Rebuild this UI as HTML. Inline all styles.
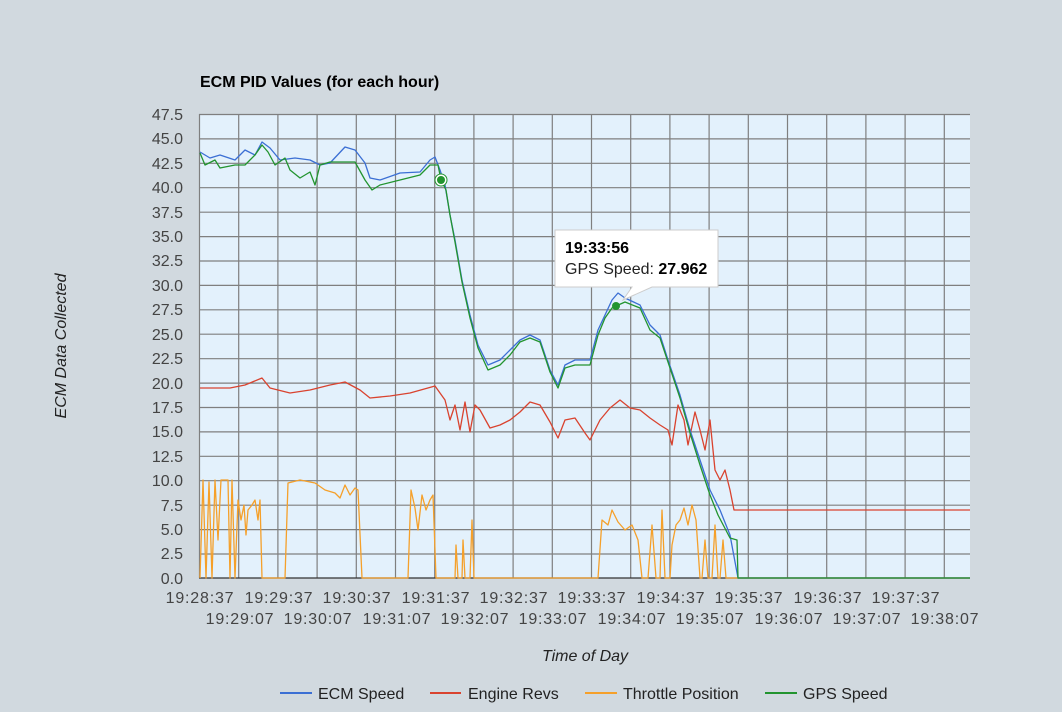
<!DOCTYPE html>
<html><head><meta charset="utf-8"><style>
html,body{margin:0;padding:0;background:#d1d9df;}
svg{display:block;font-family:"Liberation Sans",Arial,sans-serif;}
</style></head><body>
<svg width="1062" height="712" viewBox="0 0 1062 712" xmlns="http://www.w3.org/2000/svg">
<rect width="1062" height="712" fill="#d1d9df"/>
<text x="200" y="87" font-size="16" font-weight="bold" fill="#000">ECM PID Values (for each hour)</text>
<rect x="199" y="114" width="771" height="464" fill="#e3f1fc"/>
<g stroke="#7f7f7f" stroke-width="1.2" fill="none">
<path d="M199 114.5H970M199 138.9H970M199 163.3H970M199 187.7H970M199 212.2H970M199 236.6H970M199 261H970M199 285.4H970M199 309.8H970M199 334.2H970M199 358.7H970M199 383.1H970M199 407.5H970M199 431.9H970M199 456.3H970M199 480.7H970M199 505.2H970M199 529.6H970M199 554H970"/>
<path d="M199.5 114V578M238.7 114V578M277.9 114V578M317.1 114V578M356.3 114V578M395.5 114V578M434.7 114V578M473.9 114V578M513.1 114V578M552.3 114V578M591.5 114V578M630.7 114V578M669.9 114V578M709.1 114V578M748.3 114V578M787.5 114V578M826.7 114V578M865.9 114V578M905.1 114V578M944.3 114V578"/>
</g>
<line x1="199" y1="578" x2="970" y2="578" stroke="#333" stroke-width="1.2"/>
<g font-size="16" fill="#444" text-anchor="end">
<text x="183" y="120">47.5</text><text x="183" y="144">45.0</text><text x="183" y="169">42.5</text><text x="183" y="193">40.0</text><text x="183" y="218">37.5</text><text x="183" y="242">35.0</text><text x="183" y="266">32.5</text><text x="183" y="291">30.0</text><text x="183" y="315">27.5</text><text x="183" y="340">25.0</text><text x="183" y="364">22.5</text><text x="183" y="389">20.0</text><text x="183" y="413">17.5</text><text x="183" y="437">15.0</text><text x="183" y="462">12.5</text><text x="183" y="486">10.0</text><text x="183" y="511">7.5</text><text x="183" y="535">5.0</text><text x="183" y="559">2.5</text><text x="183" y="584">0.0</text>
</g>
<g font-size="16" fill="#444" text-anchor="middle" letter-spacing="0.8">
<text x="200" y="603">19:28:37</text><text x="279" y="603">19:29:37</text><text x="357" y="603">19:30:37</text><text x="436" y="603">19:31:37</text><text x="514" y="603">19:32:37</text><text x="592" y="603">19:33:37</text><text x="671" y="603">19:34:37</text><text x="749" y="603">19:35:37</text><text x="828" y="603">19:36:37</text><text x="906" y="603">19:37:37</text>
<text x="240" y="624">19:29:07</text><text x="318" y="624">19:30:07</text><text x="397" y="624">19:31:07</text><text x="475" y="624">19:32:07</text><text x="553" y="624">19:33:07</text><text x="632" y="624">19:34:07</text><text x="710" y="624">19:35:07</text><text x="789" y="624">19:36:07</text><text x="867" y="624">19:37:07</text><text x="945" y="624">19:38:07</text>
</g>
<text x="585" y="661" font-size="16" font-style="italic" fill="#222" text-anchor="middle">Time of Day</text>
<text transform="translate(66,346) rotate(-90)" font-size="16" font-style="italic" fill="#222" text-anchor="middle">ECM Data Collected</text>
<g fill="none" stroke-width="1.3" stroke-linejoin="round">
<polyline stroke="#f5a02a" points="200,578 203,480 206,578 209,482 212,578 215,480 218,540 221,480 228,480 230,578 232,480 235,578 238,500 241,520 244,505 246,535 248,510 252,505 255,500 258,520 260,500 262,578 285,578 288,483 300,480 315,483 325,490 335,493 340,498 345,485 350,495 355,488 358,490 362,578 408,578 411,490 415,508 418,530 422,495 426,510 430,500 433,495 436,578 455,578 456,545 458,578 462,578 463,540 465,578 470,578 472,520 474,578 598,578 602,520 608,525 612,510 618,522 625,530 632,525 638,540 642,578 648,578 652,525 656,578 660,578 662,510 665,578 670,578 672,545 676,525 680,520 684,508 688,525 692,505 696,520 700,578 702,578 705,540 708,578 712,578 715,525 718,578 720,578 723,540 726,578 970,578"/>
<polyline stroke="#d9432f" points="200,388 230,388 245,385 262,378 270,388 290,393 310,390 330,385 345,382 360,390 370,398 390,396 410,393 435,386 445,400 450,420 455,405 460,430 465,402 470,432 475,405 480,410 490,428 500,425 510,420 520,412 530,402 540,405 550,422 558,438 565,420 575,418 585,433 590,440 600,420 610,408 620,400 630,408 640,410 650,418 660,425 668,430 672,445 678,405 684,420 688,445 695,412 700,430 705,450 710,420 715,470 720,480 725,470 730,490 734,510 970,510"/>
<polyline stroke="#3b6fd4" points="200,152 210,158 220,155 235,160 245,150 255,155 262,142 270,148 280,160 295,158 310,160 320,165 330,163 345,147 355,150 365,163 370,178 380,180 400,173 420,172 430,160 435,157 440,170 445,185 450,215 455,240 462,280 470,315 478,345 488,365 500,360 510,350 520,340 530,335 540,340 550,370 558,385 565,365 575,360 590,360 598,330 605,315 612,300 618,293 625,298 640,305 650,325 660,335 668,360 680,395 690,430 700,460 710,490 720,510 730,535 738,578 970,578"/>
<polyline stroke="#22942f" points="200,153 205,165 215,160 220,168 235,165 245,165 255,155 262,145 268,152 275,165 285,158 290,170 300,178 310,172 315,185 320,165 330,162 355,162 365,180 372,190 380,185 400,180 420,175 430,165 438,165 441,180 446,190 450,215 455,242 462,282 470,318 478,348 488,370 500,365 510,355 520,342 530,338 540,342 550,372 558,388 565,368 575,365 590,365 598,335 605,318 612,308 616,306 625,302 640,308 650,330 660,338 668,362 680,398 690,433 700,465 710,495 718,515 730,538 737,540 738,578 970,578"/>
</g>
<circle cx="441" cy="180" r="6" fill="#fff" stroke="#22942f" stroke-width="1"/>
<circle cx="441" cy="180" r="4" fill="#22942f"/>
<circle cx="616" cy="306" r="4" fill="#22942f"/>
<path d="M555 230H718V287H652L623 300L632 287H555Z" fill="#fff" stroke="#ccc" stroke-width="1"/>
<text x="565" y="253" font-size="16" font-weight="bold" fill="#000">19:33:56</text>
<text x="565" y="274" font-size="16" fill="#222">GPS Speed: <tspan font-weight="bold" fill="#000">27.962</tspan></text>
<g font-size="16" fill="#222">
<line x1="280" y1="693" x2="312" y2="693" stroke="#3b6fd4" stroke-width="2"/><text x="318" y="699">ECM Speed</text>
<line x1="430" y1="693" x2="461" y2="693" stroke="#d9432f" stroke-width="2"/><text x="468" y="699">Engine Revs</text>
<line x1="585" y1="693" x2="617" y2="693" stroke="#f5a02a" stroke-width="2"/><text x="623" y="699">Throttle Position</text>
<line x1="765" y1="693" x2="797" y2="693" stroke="#22942f" stroke-width="2"/><text x="803" y="699">GPS Speed</text>
</g>
</svg>
</body></html>
